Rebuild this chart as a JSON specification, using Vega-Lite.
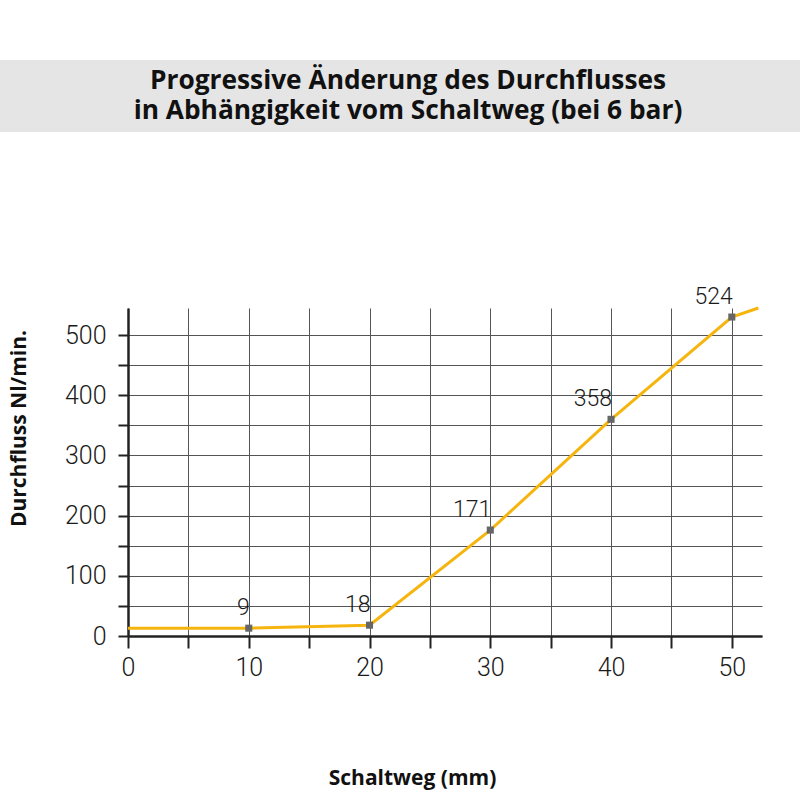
{
  "$schema": "https://vega.github.io/schema/vega-lite/v6.json",
  "description": "Progressive Änderung des Durchflusses in Abhängigkeit vom Schaltweg",
  "background": "white",
  "padding": {"left": 0, "top": 60, "right": 0, "bottom": 12},
  "spacing": 154,
  "datasets": {
    "flow": [
      {"x": 0, "y": 13, "label": null},
      {"x": 10, "y": 13, "label": "9"},
      {"x": 20, "y": 18, "label": "18"},
      {"x": 30, "y": 176, "label": "171"},
      {"x": 40, "y": 360, "label": "358"},
      {"x": 50, "y": 530, "label": "524"},
      {"x": 52.2, "y": 545, "label": null}
    ]
  },
  "vconcat": [
    {
      "width": 800,
      "height": 72,
      "view": {"fill": "#e5e5e5", "stroke": null},
      "title": {
        "text": ["Progressive Änderung des Durchflusses", "in Abhängigkeit vom Schaltweg (bei 6 bar)"],
        "font": "Open Sans",
        "fontSize": 26.3,
        "fontWeight": "bold",
        "lineHeight": 30,
        "color": "#111",
        "anchor": "middle",
        "frame": "group",
        "offset": -64,
        "dx": 8
      },
      "data": {"values": []},
      "mark": "rect"
    },
    {
      "spacing": 7,
      "hconcat": [
        {
          "width": 1,
          "height": 1,
          "view": {"stroke": null},
          "data": {"values": []},
          "mark": "rect"
        },
        {
          "width": 634,
          "height": 328,
          "view": {"stroke": null},
          "data": {"name": "flow"},
          "encoding": {
            "x": {
              "field": "x",
              "type": "quantitative",
              "title": "Schaltweg (mm)",
              "scale": {"domain": [0, 52.5], "nice": false},
              "axis": {
                "values": [0, 5, 10, 15, 20, 25, 30, 35, 40, 45, 50],
                "labelExpr": "datum.value % 10 === 0 ? datum.label : ''",
                "grid": true,
                "gridColor": "#555",
                "gridWidth": 1,
                "domainColor": "#222",
                "domainWidth": 2.5,
                "tickColor": "#222",
                "tickWidth": 2,
                "tickSize": 12,
                "labelFont": "Roboto",
                "labelFontWeight": 300,
                "labelFontSize": 25,
                "labelColor": "#1a1a1a",
                "labelPadding": 7,
                "labelFlush": false,
                "titleFont": "Open Sans",
                "titleFontSize": 21,
                "titleFontWeight": "bold",
                "titleColor": "#111",
                "titleX": 284,
                "titleY": 148,
                "titleBaseline": "alphabetic"
              }
            },
            "y": {
              "field": "y",
              "type": "quantitative",
              "title": "Durchfluss Nl/min.",
              "scale": {"domain": [0, 545], "nice": false},
              "axis": {
                "values": [0, 50, 100, 150, 200, 250, 300, 350, 400, 450, 500],
                "labelExpr": "datum.value % 100 === 0 ? datum.label : ''",
                "grid": true,
                "gridColor": "#555",
                "gridWidth": 1,
                "domainColor": "#222",
                "domainWidth": 2.5,
                "tickColor": "#222",
                "tickWidth": 2,
                "tickSize": 10,
                "labelFont": "Roboto",
                "labelFontWeight": 300,
                "labelFontSize": 25,
                "labelColor": "#1a1a1a",
                "labelPadding": 12,
                "labelFlush": false,
                "titleFont": "Open Sans",
                "titleFontSize": 21,
                "titleFontWeight": "bold",
                "titleColor": "#111",
                "titlePadding": 35,
                "titleY": 120
              }
            }
          },
          "layer": [
            {"mark": {"type": "line", "color": "#F6B50E", "strokeWidth": 3}},
            {
              "transform": [{"filter": "datum.label != null"}],
              "mark": {"type": "square", "color": "#666", "size": 50, "opacity": 1}
            },
            {
              "transform": [{"filter": "datum.label != null"}],
              "mark": {
                "type": "text",
                "align": "right",
                "baseline": "alphabetic",
                "dx": 1,
                "dy": -13,
                "font": "Roboto",
                "fontWeight": 300,
                "fontSize": 23,
                "color": "#1a1a1a"
              },
              "encoding": {"text": {"field": "label"}}
            }
          ]
        }
      ]
    }
  ]
}
